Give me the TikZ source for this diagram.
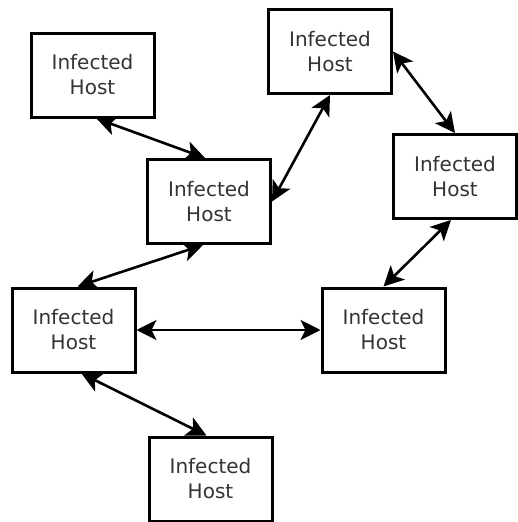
\documentclass[tikz,border=0pt]{standalone}
\usepackage{fontspec}
\setmainfont{DejaVu Sans}
\usetikzlibrary{arrows.meta}
\definecolor{txt}{HTML}{333333}
\tikzset{>={Stealth[length=20pt,width=20pt,inset=5pt]},host/.style={draw=black,line width=3pt,fill=white,align=center,minimum width=123pt,minimum height=84pt,inner sep=0pt,font=\fontsize{20}{25}\selectfont,text=txt},link/.style={<->,line width=2.6pt,black}}
\begin{document}
\begin{tikzpicture}[x=1pt,y=-1pt]
\useasboundingbox (0,0) rectangle (518,522);
\node[host] (hA) at (92.5,75) {Infected\\Host};
\node[host] (hB) at (330,51.5) {Infected\\Host};
\node[host] (hC) at (209,201.5) {Infected\\Host};
\node[host] (hD) at (455,176.5) {Infected\\Host};
\node[host] (hE) at (73.5,330) {Infected\\Host};
\node[host] (hF) at (383.5,330) {Infected\\Host};
\node[host] (hG) at (210.5,479) {Infected\\Host};
\draw[link] ([xshift=4pt]hA.south)--([xshift=-4pt]hC.north);
\draw[link] (hC.east)--(hB.south);
\draw[link] (hB.east)--(hD.north);
\draw[link] ([xshift=-4pt]hD.south)--(hF.north);
\draw[link] ([xshift=-6pt]hC.south)--([xshift=4pt]hE.north);
\draw[link] (hE.east)--(hF.west);
\draw[link] ([xshift=8pt]hE.south)--([xshift=-4pt]hG.north);
\end{tikzpicture}
\end{document}
